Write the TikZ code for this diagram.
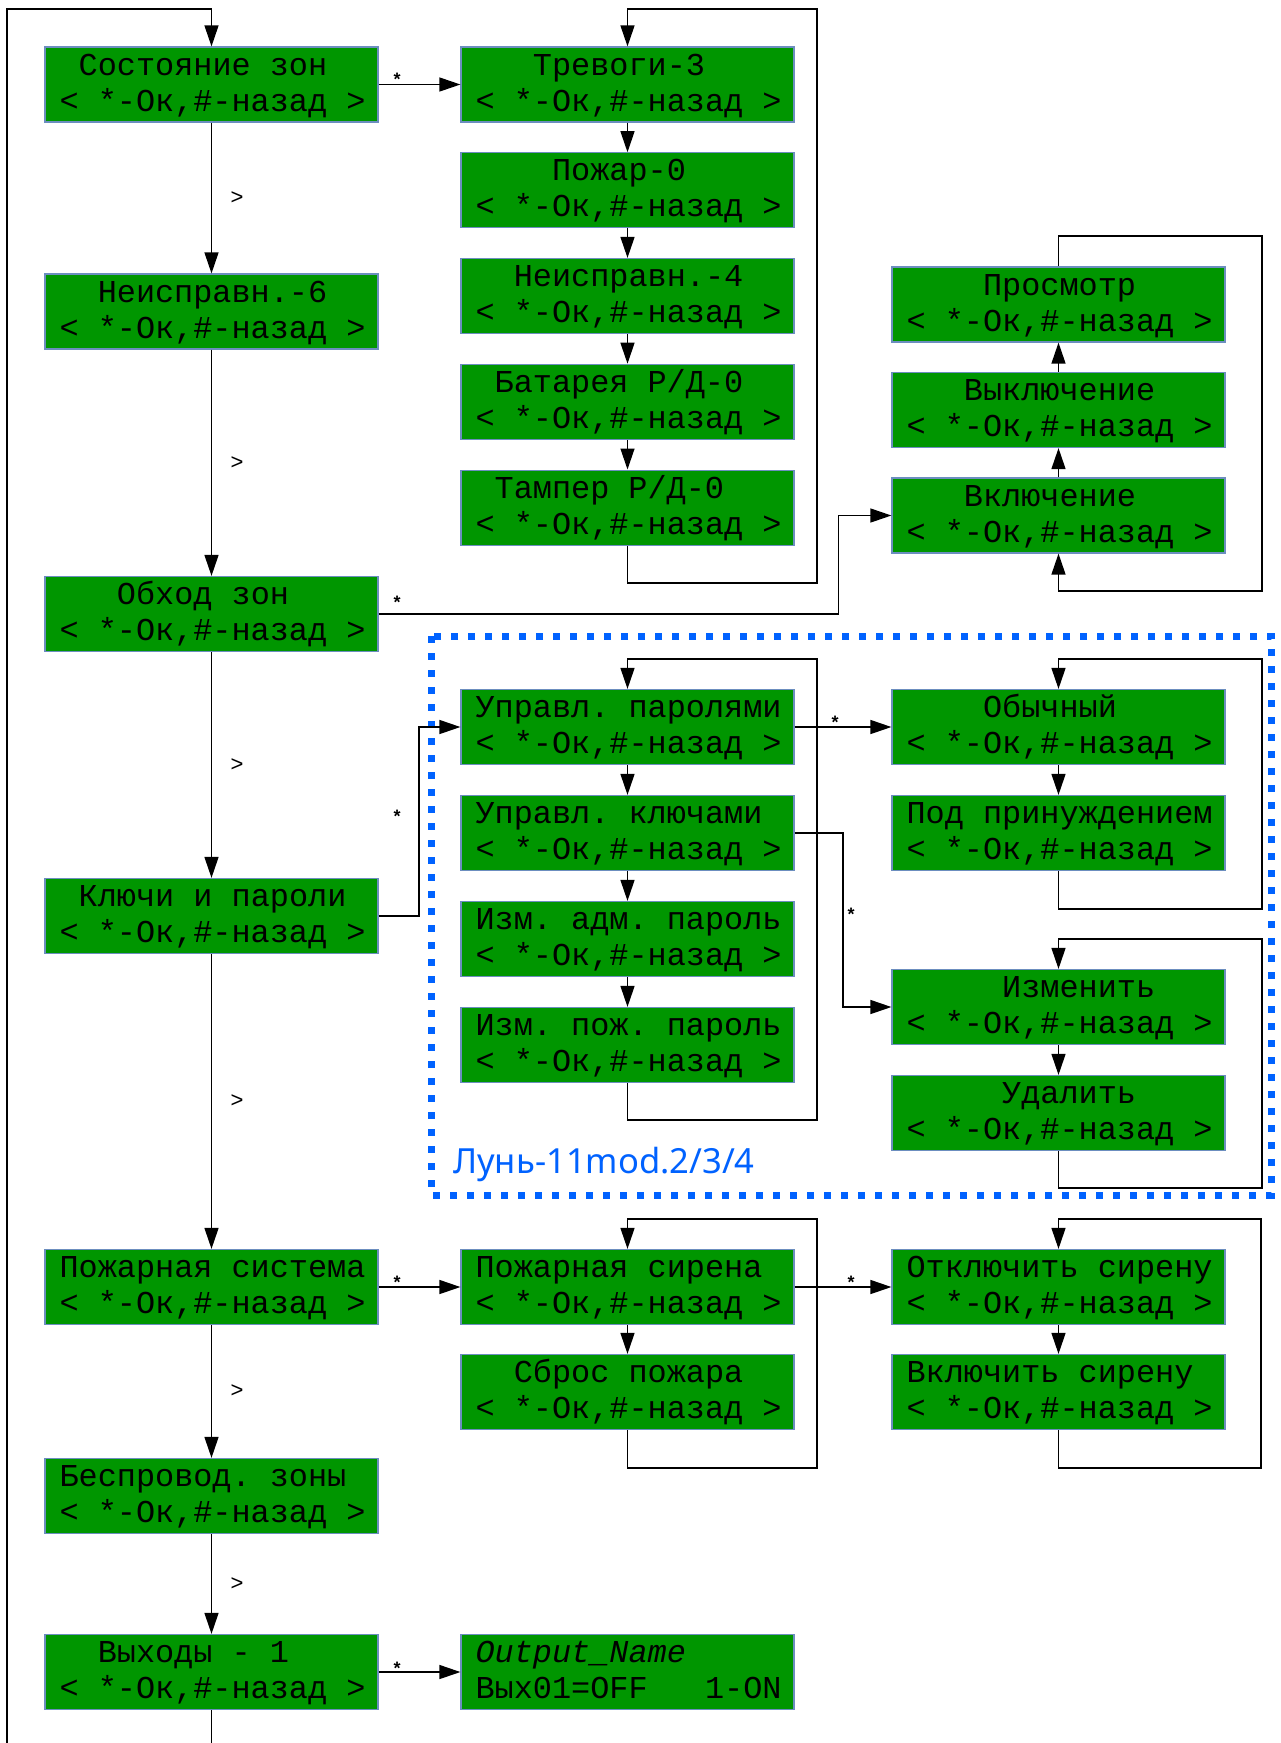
\documentclass[tikz,border=0pt]{standalone}
\usepackage{fontspec}
\setmainfont{Liberation Sans}
\newfontfamily\monof{Liberation Mono}
\newfontfamily\lblf{Noto Sans}
\usetikzlibrary{arrows.meta}
\definecolor{boxgreen}{RGB}{0,150,0}
\definecolor{boxedge}{RGB}{108,142,191}
\definecolor{dotblue}{RGB}{0,98,255}
\newcommand\pd[1]{\hspace*{#1\dimexpr0.6em\relax}}
\newcommand\okline{\mbox{<\pd{1}*-Ок,\#-назад\pd{1}>}}
\tikzset{
  menubox/.style={rectangle, draw=boxedge, line width=1.2pt, fill=boxgreen,
    minimum width=333pt, minimum height=75pt, inner sep=0pt,
    text width=304pt, align=left, text height=28pt, text depth=47pt,
    font=\monof\fontsize{31.875}{36}\selectfont},
  link/.style={draw=black, line width=1.3pt, -{Triangle[length=21pt,width=14pt]}},
  star/.style={font=\fontsize{18}{18}\selectfont\bfseries, inner sep=0pt},
  nxt/.style={font=\fontsize{22}{22}\selectfont, inner sep=0pt},
}
\hbadness=10000 \hfuzz=20pt
\begin{document}
\begin{tikzpicture}[x=1pt,y=-1pt]
\useasboundingbox (0,0) rectangle (1281,1743);
\clip (0,0) rectangle (1281,1743);
\fill[white] (0,0) rectangle (1281,1743);

% group frame
\draw[dotblue, line width=7pt, dash pattern=on 7pt off 10pt] (431,636) rectangle (1271,1195);
\node[anchor=base west, inner sep=0pt, text=dotblue, font=\lblf\fontsize{34.6}{36}\selectfont] (grp) at (453,1173) {Лунь-11mod.2/3/4};

% main column
\node[menubox] (m1) at (211.5,84.5) {\pd{1}Состояние\pd{1}зон\\\okline};
\node[menubox] (m2) at (211.5,311.5) {\pd{2}Неисправн.-6\\\okline};
\node[menubox] (m3) at (211.5,614) {\pd{3}Обход\pd{1}зон\\\okline};
\node[menubox] (m4) at (211.5,916) {\pd{1}Ключи\pd{1}и\pd{1}пароли\\\okline};
\node[menubox] (m5) at (211.5,1287) {\mbox{Пожарная\pd{1}система}\\\okline};
\node[menubox] (m6) at (211.5,1496) {Беспровод.\pd{1}зоны\\\okline};
\node[menubox] (m7) at (211.5,1672) {\pd{2}Выходы\pd{1}-\pd{1}1\\\okline};

% column 2
\node[menubox] (a1) at (627.5,84.5) {\pd{3}Тревоги-3\\\okline};
\node[menubox] (a2) at (627.5,190.3) {\pd{4}Пожар-0\\\okline};
\node[menubox] (a3) at (627.5,296) {\pd{2}Неисправн.-4\\\okline};
\node[menubox] (a4) at (627.5,401.8) {\pd{1}Батарея\pd{1}Р/Д-0\\\okline};
\node[menubox] (a5) at (627.5,507.6) {\pd{1}Тампер\pd{1}Р/Д-0\\\okline};
\node[menubox] (b1) at (627.5,727) {\mbox{Управл.\pd{1}паролями}\\\okline};
\node[menubox] (b2) at (627.5,833) {Управл.\pd{1}ключами\\\okline};
\node[menubox] (b3) at (627.5,939) {\mbox{Изм.\pd{1}адм.\pd{1}пароль}\\\okline};
\node[menubox] (b4) at (627.5,1045) {\mbox{Изм.\pd{1}пож.\pd{1}пароль}\\\okline};
\node[menubox] (f1) at (627.5,1287) {Пожарная\pd{1}сирена\\\okline};
\node[menubox] (f2) at (627.5,1392) {\pd{2}Сброс\pd{1}пожара\\\okline};
\node[menubox] (o1) at (627.5,1672) {\textit{Output\_Name}\\\mbox{Вых01=OFF\pd{3}1-ON}};

% column 3
\node[menubox] (c1) at (1058.5,304.5) {\pd{4}Просмотр\\\okline};
\node[menubox] (c2) at (1058.5,410) {\pd{3}Выключение\\\okline};
\node[menubox] (c3) at (1058.5,515.5) {\pd{3}Включение\\\okline};
\node[menubox] (d1) at (1058.5,727) {\pd{4}Обычный\\\okline};
\node[menubox] (d2) at (1058.5,833) {\mbox{Под\pd{1}принуждением}\\\okline};
\node[menubox] (e1) at (1058.5,1007) {\pd{5}Изменить\\\okline};
\node[menubox] (e2) at (1058.5,1113) {\pd{5}Удалить\\\okline};
\node[menubox] (g1) at (1058.5,1287) {\mbox{Отключить\pd{1}сирену}\\\okline};
\node[menubox] (g2) at (1058.5,1392) {Включить\pd{1}сирену\\\okline};

% main column connectors
\draw[link] (m1) -- node[nxt, xshift=25.5pt] {>} (m2);
\draw[link] (m2) -- node[nxt, xshift=25.5pt] {>} (m3);
\draw[link] (m3) -- node[nxt, xshift=25.5pt] {>} (m4);
\draw[link] (m4) -- node[nxt, xshift=25.5pt] {>} (m5);
\draw[link] (m5) -- node[nxt, xshift=25.5pt] {>} (m6);
\draw[link] (m6) -- node[nxt, xshift=25.5pt] {>} (m7);
\draw[link] (m7.south) -- (211.5,1760) -- (7,1760) |- (211.5,9) -- (m1.north);

% to column 2
\draw[link] (m1.east) -- (a1.west);
\node[star] (s1) at (397,79) {*};
\draw[link] (a1) -- (a2);
\draw[link] (a2) -- (a3);
\draw[link] (a3) -- (a4);
\draw[link] (a4) -- (a5);
\draw[link] (a5.south) |- (817,583) |- (627.5,9) -- (a1.north);

% bypass -> column 3
\draw[link] (m3.east) -- (838.5,614) |- (c3.west);
\node[star] (s2) at (397,602) {*};
\draw[link] (c3) -- (c2);
\draw[link] (c2) -- (c1);
\draw[link] (c1.north) |- (1262,236) |- (1058.5,591) -- (c3.south);

% keys and passwords
\draw[link] (m4.east) -- (419,916) |- (b1.west);
\node[star] (s3) at (397,816) {*};
\draw[link] (b1) -- (b2);
\draw[link] (b2) -- (b3);
\draw[link] (b3) -- (b4);
\draw[link] (b4.south) |- (817,1120) |- (627.5,659) -- (b1.north);
\draw[link] (b1.east) -- (d1.west);
\node[star] (s4) at (835,722) {*};
\draw[link] (d1) -- (d2);
\draw[link] (d2.south) |- (1262,909) |- (1058.5,659) -- (d1.north);
\draw[link] (b2.east) -- (843,833) |- (e1.west);
\node[star] (s5) at (851,914) {*};
\draw[link] (e1) -- (e2);
\draw[link] (e2.south) |- (1262,1188) |- (1058.5,939) -- (e1.north);

% fire system
\draw[link] (m5.east) -- (f1.west);
\node[star] (s6) at (397,1282) {*};
\draw[link] (f1) -- (f2);
\draw[link] (f2.south) |- (817,1468) |- (627.5,1219) -- (f1.north);
\draw[link] (f1.east) -- (g1.west);
\node[star] (s7) at (851,1282) {*};
\draw[link] (g1) -- (g2);
\draw[link] (g2.south) |- (1261,1468) |- (1058.5,1219) -- (g1.north);

% outputs
\draw[link] (m7.east) -- (o1.west);
\node[star] (s8) at (397,1668) {*};
\end{tikzpicture}
\end{document}
